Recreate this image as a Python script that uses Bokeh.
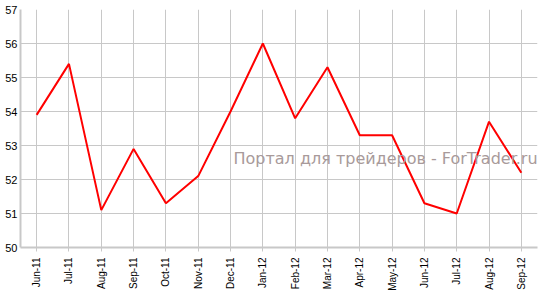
from bokeh.plotting import figure
from bokeh.models import Label, Range1d, FixedTicker
from bokeh.embed import file_html
from bokeh.resources import INLINE

months = ["Jun-11", "Jul-11", "Aug-11", "Sep-11", "Oct-11", "Nov-11", "Dec-11", "Jan-12",
          "Feb-12", "Mar-12", "Apr-12", "May-12", "Jun-12", "Jul-12", "Aug-12", "Sep-12"]
values = [53.9, 55.4, 51.1, 52.9, 51.3, 52.1, 54.0, 56.0,
          53.8, 55.3, 53.3, 53.3, 51.3, 51.0, 53.7, 52.2]
y_ticks = [50, 51, 52, 53, 54, 55, 56, 57]
watermark = "Портал для трейдеров - ForTrader.ru"

p = figure(x_range=months, width=550, height=298, output_backend="svg",
           toolbar_location=None, min_border_left=20, min_border_right=13,
           min_border_top=9, min_border_bottom=51)
p.y_range = Range1d(50, 57)
p.x_range.range_padding = 0
p.outline_line_color = None
p.background_fill_color = "white"

p.line(x=months, y=values, line_color="#ff0000", line_width=2)

p.yaxis.ticker = FixedTicker(ticks=y_ticks)
for ax in (p.xaxis[0], p.yaxis[0]):
    ax.axis_line_color = "#c8c8c8"
    ax.axis_line_width = 2
    ax.major_tick_line_color = "#c8c8c8"
    ax.minor_tick_line_color = None
    ax.major_label_text_color = "#000000"
    ax.major_label_text_font = "Liberation Sans"
p.yaxis.major_tick_out = 0
p.yaxis.major_tick_in = 0
p.yaxis.major_label_standoff = 3
p.yaxis.major_label_text_font_size = "11px"
p.xaxis.major_tick_out = 4
p.xaxis.major_tick_in = 0
p.xaxis.major_label_standoff = 6
p.xaxis.major_label_text_font_size = "10px"
p.xaxis.major_label_orientation = 1.5708

p.xgrid.grid_line_color = "#c8c8c8"
p.ygrid.grid_line_color = "#c8c8c8"
p.xgrid.grid_line_width = 1
p.ygrid.grid_line_width = 1

lbl = Label(x=213, y=89, x_units="screen", y_units="screen", text=watermark,
            text_font="DejaVu Sans", text_font_size="16px", text_color="#a89a9a",
            text_baseline="middle", level="overlay")
p.add_layout(lbl)

open("out.html", "w").write(file_html(p, INLINE))
